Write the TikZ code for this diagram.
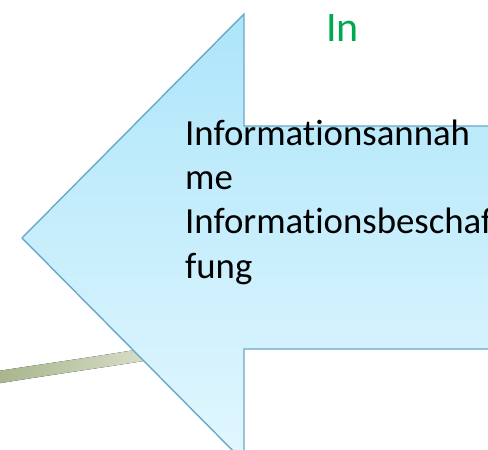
\documentclass[tikz,border=0pt]{standalone}
\usepackage{fontspec}
\setmainfont[Ligatures=NoCommon]{Carlito}
\definecolor{arrowtop}{HTML}{ADE5FA}
\definecolor{arrowbot}{HTML}{E2F7FE}
\definecolor{arrowline}{HTML}{6AA8C8}
\definecolor{lineleft}{HTML}{A8B58C}
\definecolor{lineright}{HTML}{D8DFCB}
\definecolor{titlegreen}{HTML}{00A84F}
\tikzset{
  arrowshape/.style={draw=arrowline, line width=1.4pt, line join=miter, top color=arrowtop, bottom color=arrowbot},
  bodytext/.style={anchor=base west, align=left, inner sep=0pt, font=\fontsize{36.8}{44.3}\selectfont},
  titletext/.style={anchor=base west, inner sep=0pt, text=titlegreen, font=\fontsize{42}{48}\selectfont}
}
\begin{document}
\begin{tikzpicture}[x=1pt,y=-1pt]
\useasboundingbox (0,0) rectangle (488,450);
\clip (0,0) rectangle (488,450);
% green connector line (passes under the arrow)
\fill[left color=lineleft, right color=lineright]
  (-2,371) .. controls (50,363) and (100,356) .. (150,347.5)
  -- (150,360) .. controls (100,368) and (50,375) .. (-2,383.5) -- cycle;
% big arrow
\draw[arrowshape] (22,238) -- (244,14) -- (244,126) -- (520,126) -- (520,349) -- (244,349) -- (244,462) -- cycle;
\node[titletext] (title) at (326,41) {In};
\node[bodytext] (body) at (185,278) {Informationsannah\\me\\Informationsbeschaf\\fung};
\end{tikzpicture}
\end{document}
